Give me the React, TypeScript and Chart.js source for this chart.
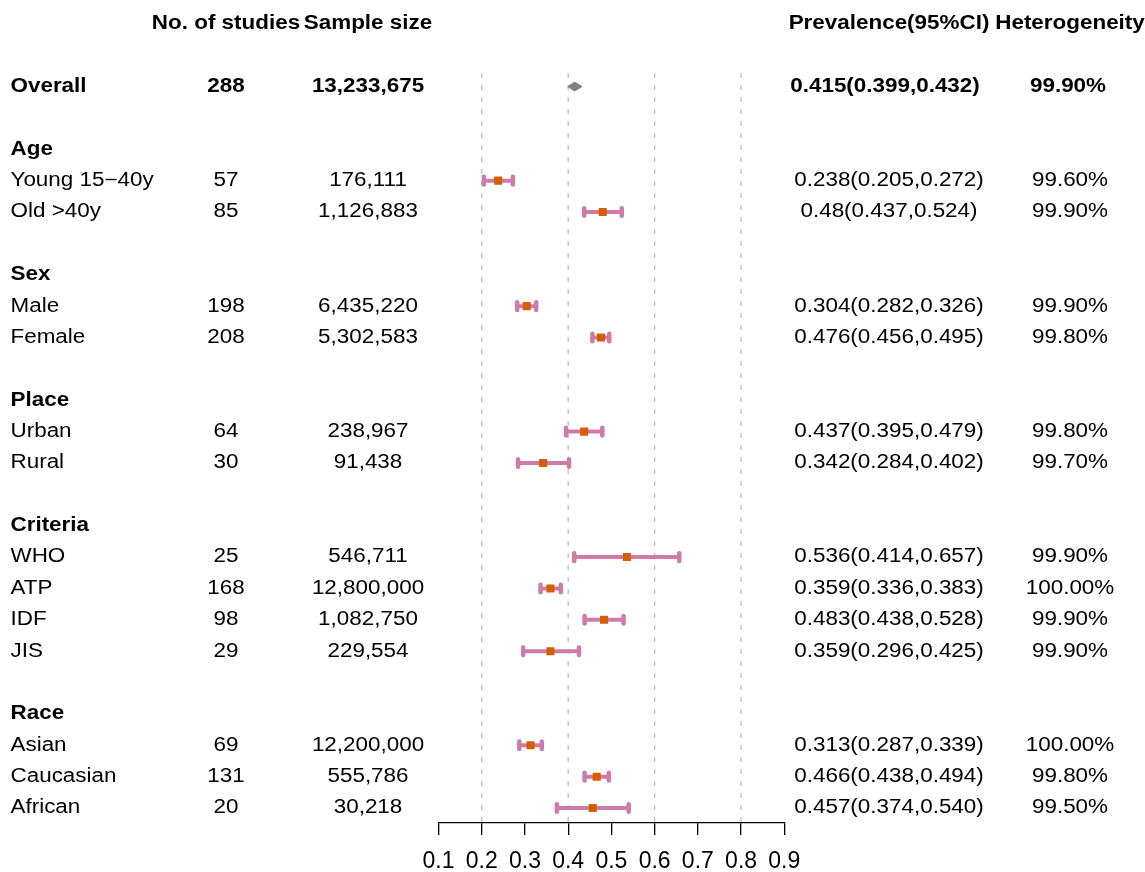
import React, { useEffect, useRef } from "react";
import { Chart, registerables } from "chart.js";

Chart.register(...registerables);

// ---------- data ----------
const headers = ["No. of studies", "Sample size", "Prevalence(95%CI)", "Heterogeneity"];

const overallLabel = "Overall";
const overallStudies = "288";
const overallSample = "13,233,675";
const overallEst = 0.415;
const overallLo = 0.399;
const overallHi = 0.432;
const overallPrev = "0.415(0.399,0.432)";
const overallHet = "99.90%";

const groupNames = ["Age", "Sex", "Place", "Criteria", "Race"];
const groupSizes = [2, 2, 2, 4, 3];

const subgroups = [
  "Young 15\u221240y", "Old >40y",
  "Male", "Female",
  "Urban", "Rural",
  "WHO", "ATP", "IDF", "JIS",
  "Asian", "Caucasian", "African",
];
const studies = ["57", "85", "198", "208", "64", "30", "25", "168", "98", "29", "69", "131", "20"];
const sampleSizes = [
  "176,111", "1,126,883", "6,435,220", "5,302,583", "238,967", "91,438",
  "546,711", "12,800,000", "1,082,750", "229,554", "12,200,000", "555,786", "30,218",
];
const estimates = [0.238, 0.48, 0.304, 0.476, 0.437, 0.342, 0.536, 0.359, 0.483, 0.359, 0.313, 0.466, 0.457];
const lower = [0.205, 0.437, 0.282, 0.456, 0.395, 0.284, 0.414, 0.336, 0.438, 0.296, 0.287, 0.438, 0.374];
const upper = [0.272, 0.524, 0.326, 0.495, 0.479, 0.402, 0.657, 0.383, 0.528, 0.425, 0.339, 0.494, 0.54];
const prevalenceLabels = [
  "0.238(0.205,0.272)", "0.48(0.437,0.524)", "0.304(0.282,0.326)", "0.476(0.456,0.495)",
  "0.437(0.395,0.479)", "0.342(0.284,0.402)", "0.536(0.414,0.657)", "0.359(0.336,0.383)",
  "0.483(0.438,0.528)", "0.359(0.296,0.425)", "0.313(0.287,0.339)", "0.466(0.438,0.494)",
  "0.457(0.374,0.540)",
];
const heterogeneity = [
  "99.60%", "99.90%", "99.90%", "99.80%", "99.80%", "99.70%", "99.90%",
  "100.00%", "99.90%", "99.90%", "100.00%", "99.80%", "99.50%",
];

const xTickValues = [0.1, 0.2, 0.3, 0.4, 0.5, 0.6, 0.7, 0.8, 0.9];
const refLines = [0.2, 0.4, 0.6, 0.8];

// ---------- layout ----------
const W = 1145;
const H = 872;
const AXIS_H = 49;
const FONT = "'Liberation Sans', Arial, sans-serif";
const FS = 19.5;
const SX = 1.15;
const Y_MIN = -0.759;
const Y_MAX = 25.477;
const HEADER_ROW = 0;
const OVERALL_ROW = 2;
const REF_TOP = 1.57;
const DIAMOND_H = 0.14;

const COL_LABEL = 10.5;
const COL_STUDIES = 226;
const COL_SAMPLE = 368;
const COL_PREV = 889;
const COL_HET = 1070;

const PINK = "#CF7BAA";
const ORANGE = "#D55E00";
const GREY = "#7F7F7F";
const DASH = "#BEBEBE";

// row indices derived from structure
const groupRows: number[] = [];
const subRows: number[] = [];
{
  let r = OVERALL_ROW;
  groupSizes.forEach((n) => {
    r += 2;
    groupRows.push(r);
    for (let j = 0; j < n; j++) {
      r += 1;
      subRows.push(r);
    }
  });
}

function drawText(ctx: CanvasRenderingContext2D, text: string, x: number, y: number, align: CanvasTextAlign, bold: boolean) {
  ctx.save();
  ctx.translate(x, y);
  ctx.scale(SX, 1);
  ctx.font = `${bold ? "bold " : ""}${FS}px ${FONT}`;
  ctx.textAlign = align;
  ctx.textBaseline = "middle";
  ctx.fillStyle = "#000";
  ctx.fillText(text, 0, 0);
  ctx.restore();
}

const capPlugin = {
  id: "roundCaps",
  beforeDatasetsDraw(chart: any) {
    chart.ctx.lineCap = "round";
  },
};

const textPlugin = {
  id: "forestText",
  afterDraw(chart: any) {
    const ctx: CanvasRenderingContext2D = chart.ctx;
    const ys = chart.scales.y;
    const py = (r: number) => ys.getPixelForValue(r);

    const hy = py(HEADER_ROW);
    drawText(ctx, headers[0], COL_STUDIES, hy, "center", true);
    drawText(ctx, headers[1], COL_SAMPLE, hy, "center", true);
    drawText(ctx, headers[2], COL_PREV, hy, "center", true);
    drawText(ctx, headers[3], COL_HET, hy, "center", true);

    const oy = py(OVERALL_ROW);
    drawText(ctx, overallLabel, COL_LABEL, oy, "left", true);
    drawText(ctx, overallStudies, COL_STUDIES, oy, "center", true);
    drawText(ctx, overallSample, COL_SAMPLE, oy, "center", true);
    drawText(ctx, overallPrev, COL_PREV - 4, oy, "center", true);
    drawText(ctx, overallHet, COL_HET - 2, oy, "center", true);

    groupNames.forEach((g, i) => drawText(ctx, g, COL_LABEL, py(groupRows[i]), "left", true));

    subgroups.forEach((s, i) => {
      const y = py(subRows[i]);
      drawText(ctx, s, COL_LABEL, y, "left", false);
      drawText(ctx, studies[i], COL_STUDIES, y, "center", false);
      drawText(ctx, sampleSizes[i], COL_SAMPLE, y, "center", false);
      drawText(ctx, prevalenceLabels[i], COL_PREV, y, "center", false);
      drawText(ctx, heterogeneity[i], COL_HET, y, "center", false);
    });
  },
};

export default function App() {
  const ref = useRef<HTMLCanvasElement | null>(null);

  useEffect(() => {
    if (!ref.current) return;
    const datasets: any[] = [];

    refLines.forEach((v) => {
      datasets.push({
        type: "line",
        order: 5,
        data: [{ x: v, y: REF_TOP }, { x: v, y: Y_MAX }],
        borderColor: DASH,
        borderWidth: 1.3,
        borderDash: [5, 7],
        pointRadius: 0,
        fill: false,
      });
    });

    subgroups.forEach((_, i) => {
      datasets.push({
        type: "line",
        order: 2,
        data: [{ x: lower[i], y: subRows[i] }, { x: upper[i], y: subRows[i] }],
        borderColor: PINK,
        borderWidth: 4,
        borderCapStyle: "round",
        pointStyle: "line",
        rotation: 90,
        pointRadius: 3.8,
        pointHoverRadius: 3.8,
        pointBorderWidth: 4.5,
        pointBorderColor: PINK,
        pointBackgroundColor: PINK,
        fill: false,
      });
    });

    datasets.push({
      type: "scatter",
      order: 0,
      data: subgroups.map((_, i) => ({ x: estimates[i], y: subRows[i] })),
      pointStyle: "rect",
      pointRadius: 5.7,
      pointHoverRadius: 5.7,
      pointBorderWidth: 0,
      backgroundColor: ORANGE,
      pointBackgroundColor: ORANGE,
    });

    datasets.push({
      type: "line",
      order: 1,
      data: [
        { x: overallLo, y: OVERALL_ROW },
        { x: overallEst, y: OVERALL_ROW - DIAMOND_H },
        { x: overallHi, y: OVERALL_ROW },
      ],
      borderColor: GREY,
      borderWidth: 1,
      pointRadius: 0,
      tension: 0,
      fill: false,
    });
    datasets.push({
      type: "line",
      order: 1,
      data: [
        { x: overallLo, y: OVERALL_ROW },
        { x: overallEst, y: OVERALL_ROW + DIAMOND_H },
        { x: overallHi, y: OVERALL_ROW },
      ],
      borderColor: GREY,
      borderWidth: 1,
      backgroundColor: GREY,
      pointRadius: 0,
      tension: 0,
      fill: "-1",
    });

    const chart = new Chart(ref.current, {
      type: "line",
      data: { datasets },
      options: {
        animation: false,
        responsive: false,
        maintainAspectRatio: false,
        events: [],
        layout: {
          autoPadding: false,
          padding: { left: 438.5, right: W - 784.3, top: 0, bottom: 0 },
        },
        plugins: { legend: { display: false }, tooltip: { enabled: false } },
        scales: {
          x: {
            type: "linear",
            min: 0.1,
            max: 0.9,
            afterBuildTicks: (axis: any) => {
              axis.ticks = xTickValues.map((v) => ({ value: v }));
            },
            afterFit: (axis: any) => {
              axis.height = AXIS_H;
            },
            ticks: {
              color: "#000",
              font: { family: FONT, size: 23, lineHeight: 0.9 },
              padding: 16.6,
              maxRotation: 0,
              autoSkip: false,
              callback: (v: any) => Number(v).toFixed(1),
            },
            grid: {
              drawOnChartArea: false,
              drawTicks: true,
              tickLength: 12,
              color: "#000",
              lineWidth: 1.3,
            },
            border: { display: true, color: "#000", width: 1.3 },
          },
          y: {
            type: "linear",
            display: false,
            reverse: true,
            min: Y_MIN,
            max: Y_MAX,
          },
        },
      },
      plugins: [capPlugin, textPlugin],
    } as any);
    return () => chart.destroy();
  }, []);

  return (
    <div style={{ position: "fixed", left: 0, top: 0, width: W, height: H, background: "#fff" }}>
      <canvas ref={ref} width={W} height={H} style={{ width: W, height: H, display: "block" }} />
    </div>
  );
}
